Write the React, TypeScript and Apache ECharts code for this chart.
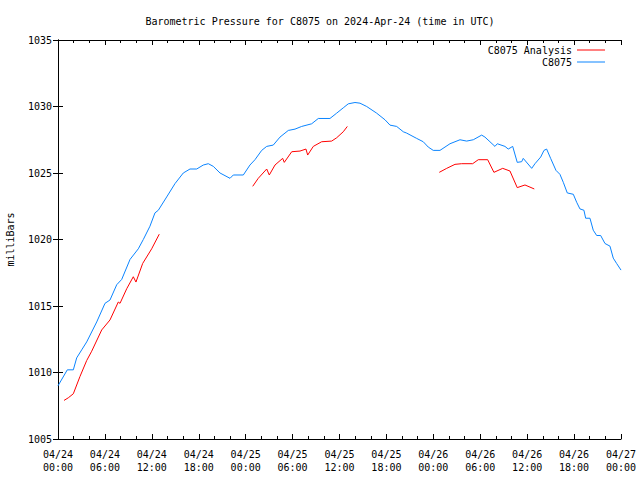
import React, { useEffect, useRef } from "react";
import * as echarts from "echarts";

// Hours since 2024-04-24 00:00 UTC
const stationHours = [0, 1.19, 1.96, 2.39, 3.03, 3.67, 4.95, 6.01, 6.65, 7.51, 8.15, 9.21, 10.27, 10.91, 11.76, 12.4, 12.83, 13.9, 14.96, 16.02, 16.88, 17.74, 18.58, 19.22, 19.86, 20.72, 22.0, 22.42, 23.7, 24.55, 25.19, 26.05, 26.69, 27.53, 28.39, 29.45, 30.31, 31.16, 32.44, 33.29, 34.78, 35.64, 36.48, 37.12, 37.98, 38.62, 39.48, 40.75, 41.82, 42.46, 43.31, 44.16, 44.59, 45.87, 46.71, 47.35, 47.99, 48.85, 50.13, 51.41, 52.26, 53.11, 54.18, 54.6, 55.24, 55.88, 56.18, 57.16, 57.58, 58.15, 58.73, 59.3, 59.5, 60.58, 61.0, 61.73, 62.15, 62.49, 63.0, 63.68, 64.19, 64.62, 65.13, 65.9, 66.33, 66.75, 67.26, 67.48, 68.03, 68.45, 68.89, 69.4, 69.95, 70.59, 71.01, 71.44, 72.0];
const stationValues = [1009.0, 1010.2, 1010.2, 1011.1, 1011.7, 1012.3, 1013.8, 1015.2, 1015.45, 1016.6, 1017.0, 1018.5, 1019.3, 1020.0, 1021.0, 1022.0, 1022.2, 1023.2, 1024.2, 1025.0, 1025.3, 1025.3, 1025.6, 1025.7, 1025.5, 1025.0, 1024.6, 1024.85, 1024.85, 1025.6, 1026.0, 1026.7, 1027.0, 1027.1, 1027.7, 1028.2, 1028.3, 1028.5, 1028.7, 1029.1, 1029.1, 1029.5, 1029.9, 1030.2, 1030.3, 1030.25, 1030.0, 1029.5, 1029.0, 1028.6, 1028.5, 1028.1, 1028.0, 1027.6, 1027.35, 1026.95, 1026.7, 1026.7, 1027.2, 1027.5, 1027.4, 1027.5, 1027.85, 1027.7, 1027.35, 1027.0, 1027.2, 1027.0, 1026.8, 1027.0, 1025.8, 1025.85, 1026.1, 1025.35, 1025.7, 1026.2, 1026.7, 1026.8, 1026.1, 1025.2, 1024.9, 1024.3, 1023.5, 1023.4, 1022.8, 1022.3, 1022.2, 1021.6, 1021.6, 1020.7, 1020.3, 1020.3, 1019.7, 1019.5, 1018.6, 1018.2, 1017.7];

// Analysis: three separate runs (null = gap)
const analysisHours = [0.77, 1.32, 1.96, 2.81, 3.67, 4.31, 5.59, 6.65, 7.71, 7.93, 8.79, 9.63, 9.97, 10.83, 11.98, 12.95, 18.0,
  24.9, 25.61, 26.69, 27.02, 27.75, 28.73, 28.94, 29.89, 30.95, 31.71, 31.93, 32.65, 33.72, 35.0, 35.64, 36.48, 37.0, 42.0,
  48.76, 49.71, 50.77, 51.62, 53.03, 53.75, 54.95, 55.75, 56.87, 57.8, 58.73, 59.72, 60.91];
const analysisValues: (number | null)[] = [1007.9, 1008.1, 1008.4, 1009.7, 1010.9, 1011.6, 1013.2, 1013.95, 1015.3, 1015.2, 1016.3, 1017.2, 1016.8, 1018.2, 1019.3, 1020.4, null,
  1024.0, 1024.6, 1025.3, 1024.85, 1025.6, 1026.1, 1025.8, 1026.6, 1026.65, 1026.8, 1026.35, 1027.0, 1027.35, 1027.4, 1027.65, 1028.1, 1028.5, null,
  1025.05, 1025.35, 1025.65, 1025.7, 1025.7, 1026.0, 1026.0, 1025.05, 1025.35, 1025.15, 1023.9, 1024.1, 1023.8];

const startDay = 24;
const FONT = "'DejaVu Sans Mono', 'Liberation Mono', monospace";

export default function App() {
  const ref = useRef<HTMLDivElement>(null);
  useEffect(() => {
    if (!ref.current) return;
    const chart = echarts.init(ref.current, undefined, { renderer: "svg" });
    const fmt = (v: number) => {
      const day = startDay + Math.floor(v / 24);
      const hr = Math.round(v % 24);
      return "04/" + String(day).padStart(2, "0") + "\n" + String(hr).padStart(2, "0") + ":00";
    };
    const xCommon = {
      type: "value" as const,
      min: 0,
      max: 72,
      interval: 6,
      axisLine: { show: true, lineStyle: { color: "#000", width: 1 } },
      axisTick: { show: true, inside: true, length: 5, lineStyle: { color: "#000" } },
      minorTick: { show: true, splitNumber: 3, length: 3, lineStyle: { color: "#000" } },
      splitLine: { show: false },
    };
    chart.setOption({
      animation: false,
      title: {
        text: "Barometric Pressure for C8075 on 2024-Apr-24 (time in UTC)",
        left: "center",
        top: 11,
        textStyle: { fontFamily: FONT, fontSize: 10, fontWeight: "normal", color: "#000" },
      },
      legend: {
        orient: "vertical",
        right: 30,
        top: 40,
        align: "right",
        itemGap: 2,
        itemWidth: 28,
        itemHeight: 1,
        icon: "rect",
        textStyle: { fontFamily: FONT, fontSize: 10, color: "#000" },
        data: ["C8075 Analysis", "C8075"],
      },
      grid: { left: 58, right: 19, top: 40, bottom: 41, containLabel: false, outerBoundsMode: "none" },
      xAxis: [
        {
          ...xCommon,
          position: "bottom",
          axisLabel: {
            formatter: fmt,
            fontFamily: FONT,
            fontSize: 10,
            lineHeight: 13,
            color: "#000",
            margin: 9,
            showMinLabel: true,
            showMaxLabel: true,
            hideOverlap: false,
          },
        },
        {
          ...xCommon,
          position: "top",
          axisLabel: { show: false },
        },
      ],
      yAxis: [
        {
          type: "value",
          min: 1005,
          max: 1035,
          interval: 5,
          position: "left",
          name: "milliBars",
          nameLocation: "middle",
          nameRotate: 90,
          nameGap: 43,
          nameTextStyle: { fontFamily: FONT, fontSize: 10, color: "#000" },
          axisLine: { show: true, lineStyle: { color: "#000", width: 1 } },
          axisTick: { show: true, inside: true, length: 5, lineStyle: { color: "#000" } },
          axisLabel: { fontFamily: FONT, fontSize: 10, color: "#000", margin: 6, formatter: (v: number) => String(v) },
          splitLine: { show: false },
        },
        {
          type: "value",
          min: 1005,
          max: 1035,
          interval: 5,
          position: "right",
          axisLine: { show: true, lineStyle: { color: "#000", width: 1 } },
          axisTick: { show: true, inside: true, length: 5, lineStyle: { color: "#000" } },
          axisLabel: { show: false },
          splitLine: { show: false },
        },
      ],
      series: [
        {
          name: "C8075 Analysis",
          type: "line",
          xAxisIndex: 0,
          yAxisIndex: 0,
          showSymbol: false,
          connectNulls: false,
          color: "#ff0000",
          lineStyle: { width: 1, color: "#ff0000" },
          data: analysisHours.map((h, i) => [h, analysisValues[i] === null ? "-" : analysisValues[i]]),
        },
        {
          name: "C8075",
          type: "line",
          xAxisIndex: 0,
          yAxisIndex: 0,
          showSymbol: false,
          color: "#0a84ff",
          lineStyle: { width: 1, color: "#0a84ff" },
          data: stationHours.map((h, i) => [h, stationValues[i]]),
        },
      ],
    });
    return () => chart.dispose();
  }, []);
  return <div ref={ref} style={{ width: 640, height: 480, position: "absolute", left: 0, top: 0 }} />;
}
